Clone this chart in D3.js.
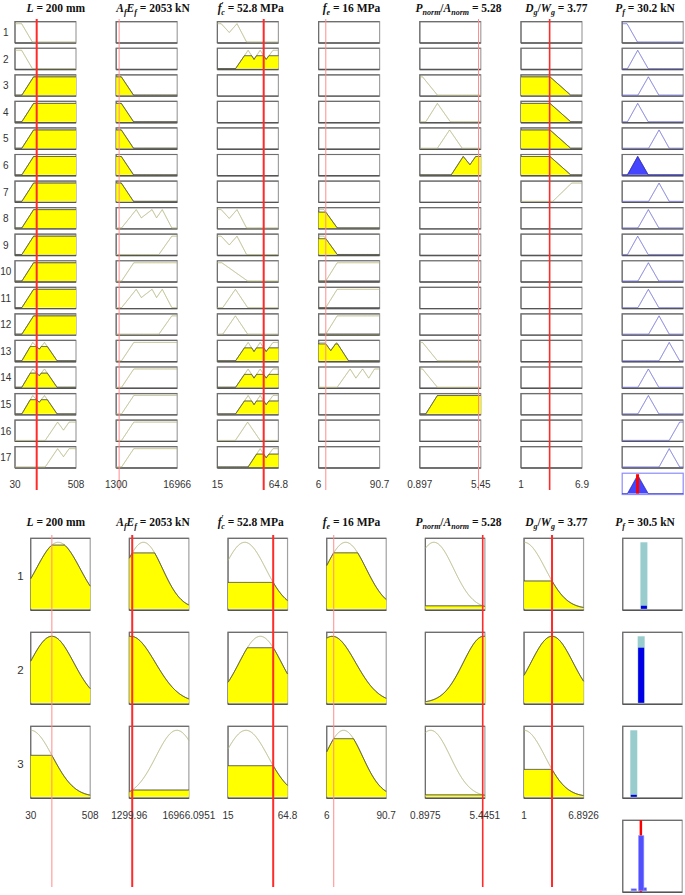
<!DOCTYPE html>
<html><head><meta charset="utf-8">
<script src="https://cdn.jsdelivr.net/npm/d3@7"></script>
<style>body{margin:0;background:#fff}</style>
</head><body><svg id="c" width="685" height="895"></svg>
<script>
// ---------------- DATA ----------------
// Top figure: 17 Mamdani rules
const topDomains = [[30,508],[1300,16966],[15,64.8],[6,90.7],[0.897,5.45],[1,6.9]];
const topTickLabels = [["30","508"],["1300","16966"],["15","64.8"],["6","90.7"],["0.897","5.45"],["1","6.9"]];
const topInputs = [200, 2053, 52.8, 16, 5.28, 3.77];
const topOutDomain = [0, 120];
const topOutput = 30.2;

const mfL  = {A:[[30,1],[82,1],[166,0]], B:[[84,0],[176,1],[508,1]],
              C:[[84,0],[169,1],[220,0.63],[261,1],[359,0]], D:[[267,0],[364,1],[410,0.56],[454,1],[508,1]]};
const rulesL = ["A","A","B","B","B","B","B","B","B","B","B","B","C","C","C","D","D"];

const mfAE = {A:[[1300,1],[2606,1],[5739,0]],
              B:[[2684,0],[6444,1],[7749,0.55],[10517,1],[11666,0.55],[13128,1],[15583,0]],
              C:[[12266,0],[15583,1],[16966,1]], D:[[2684,0],[5817,1],[16966,1]]};
const rulesAE = [null,null,"A","A","A","A","A","B","C","D","B","C","D","D","D","D","D"];

const mfFc = {A:[[15,1],[18.1,1],[24.7,0.52],[31,1],[38.8,0]],
              B:[[29.9,0],[40.1,1],[44.9,0.5],[49.9,1],[54.8,0.5],[60.4,1],[64.8,1]],
              C:[[15,1],[18.6,1],[39.7,0]], D:[[19.4,0],[29.7,1],[39.7,0]],
              E:[[29.7,0],[39.7,1],[49.9,0]], F:[[40.1,0],[49.9,1],[54.8,0.5],[60.4,1],[64.8,1]]};
const rulesFc = ["A","B",null,null,null,null,null,"A","A","C","D","D","B","B","B","E","F"];

const mfFe = {A:[[6,1],[13.5,1],[31.8,0]], B:[[15.9,0],[31.8,1],[90.7,1]],
              C:[[6,1],[14.5,1],[22.9,0.55],[31,1],[47.4,0]],
              D:[[31.8,0],[49.8,1],[57.8,0.5],[67.1,1],[75.6,0.5],[83.6,1],[90.7,1]]};
const rulesFe = [null,null,null,null,null,null,null,"A","A","B","B","B","C","D",null,null,null];

const mfPA = {A:[[0.897,1],[1.1,1],[2.21,0]], B:[[1.35,0],[2.21,1],[3.17,0]], C:[[2.21,0],[3.12,1],[4.06,0]],
              D:[[3.25,0],[4.14,1],[4.64,0.55],[5.07,1],[5.45,1]], E:[[1.35,0],[2.21,1],[5.45,1]]};
const rulesPA = [null,null,"A","B","C","D",null,null,null,null,null,null,"A","A","E",null,null];

const mfDW = {A:[[1,1],[3.8,1],[5.8,0]], B:[[4.07,0],[5.9,1],[6.9,1]]};
const rulesDW = [null,null,"A","A","A","A","B",null,null,null,null,null,null,null,null,null,null];

const mfOut = {1:[[0,1],[9.5,1],[30,0]], 2:[[10.5,0],[30.5,1],[51,0]], 3:[[31,0],[51.5,1],[72,0]],
               4:[[52,0],[72.5,1],[92.5,0]], 5:[[72.5,0],[92.5,1],[113,0]], 6:[[92.5,0],[113,1],[120,1]]};
const rulesOut = [1,2,3,2,4,2,4,3,2,3,3,4,5,3,3,6,5];

// Bottom figure: 3 Sugeno rules, gaussian MFs [sigma, center]
const botDomains = [[30,508],[1299.96,16966.0951],[15,64.8],[6,90.7],[0.8975,5.4451],[1,6.8926]];
const botTickLabels = [["30","508"],["1299.96","16966.0951"],["15","64.8"],["6","90.7"],["0.8975","5.4451"],["1","6.8926"]];
const botInputs = [200, 2053, 52.8, 16, 5.28, 3.77];
const gL  = [[175,251],[175,200],[175,30]];
const gAE = [[5000,5000],[6400,1700],[5500,13800]];
const gFc = [[17.5,29],[17.6,42],[18.5,30]];
const gFe = [[29,33],[33,14],[27,30]];
const gPA = [[1.5,1.55],[1.55,5.35],[1.5,1.3]];
const gDW = [[2.1,1],[2.08,3.77],[2.08,1]];
const botRuleOut = [35.6, 31.0, 18.6];
const botOutDomain = [0, 100];
const botOutput = 30.5;

const titleParts = [
  [{t:"L",i:1},{t:" = 200 mm"}],
  [{t:"A",i:1},{t:"f",i:1,s:"sub"},{t:"E",i:1},{t:"f",i:1,s:"sub"},{t:" = 2053 kN"}],
  [{t:"f",i:1},{t:"′",s:"sup"},{t:"c",i:1,s:"subb"},{t:"  = 52.8 MPa"}],
  [{t:"f",i:1},{t:"e",i:1,s:"sub"},{t:" = 16 MPa"}],
  [{t:"P",i:1},{t:"norm",i:1,s:"sub"},{t:"/"},{t:"A",i:1},{t:"norm",i:1,s:"sub"},{t:" = 5.28"}],
  [{t:"D",i:1},{t:"g",i:1,s:"sub"},{t:"/"},{t:"W",i:1},{t:"g",i:1,s:"sub"},{t:" = 3.77"}]
];
const topOutTitle = [{t:"P",i:1},{t:"f",i:1,s:"sub"},{t:" = 30.2 kN"}];
const botOutTitle = [{t:"P",i:1},{t:"f",i:1,s:"sub"},{t:" = 30.5 kN"}];

// ---------------- LAYOUT ----------------
const TOP = {x0:15, dx:101.2, w:61, y0:21.7, dy:26.56, h:21.3};
const BOT = {x0:30.7, dx:98.67, w:59.5, y0:538.3, dy:94, h:72};
const titleX = [55.8, 153, 250.7, 351.5, 458.5, 556.3, 645];
const topRedW = [2, 1, 2, 1, 1, 1.6];
const botRedW = [1, 2, 2, 1, 1.6, 2];
const OLIVE = "#b4b47c", YEL = "#ffff00";

const svg = d3.select("#c");

function extend(pts, dom){
  const p = pts.map(d=>d.slice());
  if (p[0][0] > dom[0]) p.unshift([dom[0], 0]);
  if (p[p.length-1][0] < dom[1]) p.push([dom[1], 0]);
  return p;
}
function polyF(pts, dom){
  const p = extend(pts, dom);
  return x => {
    if (x <= p[0][0]) return p[0][1];
    for (let i=1;i<p.length;i++){
      if (x <= p[i][0]){ const [x0,y0]=p[i-1],[x1,y1]=p[i]; return x1===x0?y1:y0+(y1-y0)*(x-x0)/(x1-x0); }
    }
    return p[p.length-1][1];
  };
}
function gaussF(sc){ const [s,c]=sc; return x=>Math.exp(-((x-c)*(x-c))/(2*s*s)); }
function samples(dom, extra){
  const n=320; const a=d3.range(n+1).map(i=>dom[0]+(dom[1]-dom[0])*i/n);
  return Array.from(new Set(a.concat(extra||[]))).sort((p,q)=>p-q);
}
function drawMF(g, f, xs, xS, yS, level, st){
  const line = d3.line().x(d=>xS(d[0])).y(d=>yS(d[1]));
  g.append("path").attr("d", line(xs.map(x=>[x,f(x)]))).attr("fill","none")
    .attr("stroke", st.line).attr("stroke-width", st.lw||1);
  if (level > 0.001){
    const pts = xs.map(x=>[x, Math.min(f(x), level)]);
    const area = d3.area().x(d=>xS(d[0])).y0(yS(0)).y1(d=>yS(d[1]));
    g.append("path").attr("d", area(pts)).attr("fill", st.fill);
    g.append("path").attr("d", line(pts)).attr("fill","none").attr("stroke", st.outline).attr("stroke-width",1);
  }
}
function drawBox(g, x, y, w, h, col){
  g.append("rect").attr("x",x).attr("y",y).attr("width",w).attr("height",h)
    .attr("fill","#fff").attr("stroke", col||"#a0a0a0").attr("stroke-width",1.2);
  if (!col){
    g.append("path").attr("d",`M${x},${y+h}V${y}H${x+w}`).attr("fill","none").attr("stroke","#6e6e6e").attr("stroke-width",1.2);
    g.append("line").attr("x1",x).attr("x2",x+w).attr("y1",y+h).attr("y2",y+h).attr("stroke","#555").attr("stroke-width",1.4);
  }
}
function drawTitle(parts, x, y){
  const t = svg.append("text").attr("x",x).attr("y",y).attr("text-anchor","middle")
    .attr("font-family","'Liberation Serif','Times New Roman',serif").attr("font-weight","bold")
    .attr("font-size",11.5).attr("fill","#111");
  let off = 0;
  parts.forEach(p=>{
    let target = 0, size = 11.5, dx = 0;
    if (p.s==="sub"){ target = 3; size = 8; }
    if (p.s==="sup"){ target = -4.5; size = 8; }
    if (p.s==="subb"){ target = 3; size = 8; dx = -2.5; }
    const ts = t.append("tspan").text(p.t).attr("font-size",size).attr("dy", target-off);
    if (dx) ts.attr("dx", dx);
    if (p.i) ts.attr("font-style","italic");
    off = target;
  });
}
function label(x, y, txt, size, anchor){
  svg.append("text").attr("x",x).attr("y",y).attr("text-anchor",anchor||"middle")
    .attr("font-family","'Liberation Sans',Arial,sans-serif").attr("font-size",size).attr("fill","#333").text(txt);
}

// ---------------- TOP FIGURE ----------------
const topMFs = [mfL, mfAE, mfFc, mfFe, mfPA, mfDW];
const topRules = [rulesL, rulesAE, rulesFc, rulesFe, rulesPA, rulesDW];
const topX = topDomains.map((d,i)=>d3.scaleLinear().domain(d).range([TOP.x0+i*TOP.dx, TOP.x0+i*TOP.dx+TOP.w]));
const topOutX = d3.scaleLinear().domain(topOutDomain).range([TOP.x0+6*TOP.dx, TOP.x0+6*TOP.dx+TOP.w]);
const nTop = rulesOut.length;
const gTop = svg.append("g");

titleParts.forEach((p,i)=>drawTitle(p, titleX[i], 12));
drawTitle(topOutTitle, titleX[6], 12);

const topFiring = [];
for (let r=0;r<nTop;r++){
  const y = TOP.y0 + r*TOP.dy;
  const yS = d3.scaleLinear().domain([0,1]).range([y+TOP.h-1, y+2]);
  label(5.8, y+TOP.h/2+3.8, String(r+1), 10);
  let fire = 1;
  for (let c=0;c<6;c++){
    const x = TOP.x0 + c*TOP.dx;
    drawBox(gTop, x, y, TOP.w, TOP.h);
    const key = topRules[c][r];
    if (key){
      const pts = topMFs[c][key];
      const f = polyF(pts, topDomains[c]);
      const lvl = f(topInputs[c]);
      fire = Math.min(fire, lvl);
      drawMF(gTop, f, samples(topDomains[c], pts.map(d=>d[0])), topX[c], yS, lvl,
             {line:OLIVE, fill:YEL, outline:"#3a3a3a"});
    }
  }
  topFiring.push(fire);
  const xo = TOP.x0 + 6*TOP.dx;
  drawBox(gTop, xo, y, TOP.w, TOP.h);
  const op = mfOut[rulesOut[r]];
  const fo = polyF(op, topOutDomain);
  drawMF(gTop, fo, samples(topOutDomain, op.map(d=>d[0])), topOutX, yS, fire,
         {line:"#6b6bd6", fill:"#4646ff", outline:"#2a2ab0"});
}
// aggregate output box
{
  const y = TOP.y0 + nTop*TOP.dy;
  const yS = d3.scaleLinear().domain([0,1]).range([y+TOP.h-1, y+2]);
  const xo = TOP.x0 + 6*TOP.dx;
  drawBox(gTop, xo, y, TOP.w, TOP.h, "#8c8cff");
  const fs = rulesOut.map((k,r)=>{ const f=polyF(mfOut[k], topOutDomain); return x=>Math.min(f(x), topFiring[r]); });
  const agg = x => d3.max(fs, f=>f(x));
  const xs = samples(topOutDomain, []);
  const pts = xs.map(x=>[x, agg(x)]);
  gTop.append("path").attr("d", d3.area().x(d=>topOutX(d[0])).y0(yS(0)).y1(d=>yS(d[1]))(pts)).attr("fill","#4646ff");
  gTop.append("path").attr("d", d3.line().x(d=>topOutX(d[0])).y(d=>yS(d[1]))(pts)).attr("fill","none").attr("stroke","#2a2ab0");
  gTop.append("line").attr("x1",topOutX(topOutput)).attr("x2",topOutX(topOutput)).attr("y1",y+1).attr("y2",y+TOP.h-1)
    .attr("stroke","#ff0000").attr("stroke-width",3);
  topTickLabels.forEach((lb,c)=>{
    label(topX[c].range()[0], y+TOP.h/2+4.3, lb[0], 10);
    label(topX[c].range()[1], y+TOP.h/2+4.3, lb[1], 10);
  });
}
// input red lines
topInputs.forEach((v,c)=>{
  gTop.append("line").attr("x1",topX[c](v)).attr("x2",topX[c](v)).attr("y1",19).attr("y2",490)
    .attr("stroke", topRedW[c]>=1.5?"#ff2a2a":"#ff8c8c").attr("stroke-width",topRedW[c]);
});

// ---------------- BOTTOM FIGURE ----------------
const botG = [gL, gAE, gFc, gFe, gPA, gDW];
const botX = botDomains.map((d,i)=>d3.scaleLinear().domain(d).range([BOT.x0+i*BOT.dx, BOT.x0+i*BOT.dx+BOT.w]));
const botOutX = d3.scaleLinear().domain(botOutDomain).range([BOT.x0+6*BOT.dx, BOT.x0+6*BOT.dx+BOT.w]);
const gBot = svg.append("g");
titleParts.forEach((p,i)=>drawTitle(p, titleX[i], 525.5));
drawTitle(botOutTitle, titleX[6], 525.5);

const botFiring = [];
for (let r=0;r<botRuleOut.length;r++){
  const y = BOT.y0 + r*BOT.dy;
  const yS = d3.scaleLinear().domain([0,1]).range([y+BOT.h-1.5, y+4]);
  label(20.5, y+BOT.h/2+5.5, String(r+1), 11.5);
  let fire = 1;
  for (let c=0;c<6;c++){
    const x = BOT.x0 + c*BOT.dx;
    drawBox(gBot, x, y, BOT.w, BOT.h);
    const f = gaussF(botG[c][r]);
    const lvl = f(botInputs[c]);
    fire = Math.min(fire, lvl);
    drawMF(gBot, f, samples(botDomains[c], []), botX[c], yS, lvl, {line:OLIVE, fill:YEL, outline:"#3a3a3a"});
  }
  botFiring.push(fire);
  const xo = BOT.x0 + 6*BOT.dx;
  drawBox(gBot, xo, y, BOT.w, BOT.h);
  const bx = botOutX(botRuleOut[r]);
  gBot.append("rect").attr("x",bx-3.5).attr("width",7).attr("y",yS(1)).attr("height",yS(0)-yS(1)).attr("fill","#99cccc");
  gBot.append("rect").attr("x",bx-3).attr("width",6).attr("y",yS(fire)).attr("height",Math.max(1.2,yS(0)-yS(fire))).attr("fill","#0000e6");
}
botTickLabels.forEach((lb,c)=>{
  label(botX[c].range()[0], 818.5, lb[0], 10);
  label(botX[c].range()[1], 818.5, lb[1], 10);
});
// aggregate
{
  const y = BOT.y0 + 3*BOT.dy;
  const yS = d3.scaleLinear().domain([0,1]).range([y+BOT.h-1.5, y+4]);
  const xo = BOT.x0 + 6*BOT.dx;
  drawBox(gBot, xo, y, BOT.w, BOT.h);
  gBot.append("line").attr("x1",botOutX(botOutput)).attr("x2",botOutX(botOutput)).attr("y1",y).attr("y2",y+BOT.h)
    .attr("stroke","#ff0000").attr("stroke-width",2.5);
  botRuleOut.forEach((v,r)=>{
    gBot.append("rect").attr("x",botOutX(v)-2.7).attr("width",5.4).attr("y",yS(botFiring[r]))
      .attr("height",Math.max(1.2,yS(0)-yS(botFiring[r]))).attr("fill","#5050ff")
      .attr("stroke","#9a9aff").attr("stroke-width",0.6);
  });
}
botInputs.forEach((v,c)=>{
  gBot.append("line").attr("x1",botX[c](v)).attr("x2",botX[c](v)).attr("y1",535).attr("y2",887)
    .attr("stroke", botRedW[c]>=1.5?"#ff2a2a":"#ff8c8c").attr("stroke-width",botRedW[c]);
});
</script>
</body></html>
